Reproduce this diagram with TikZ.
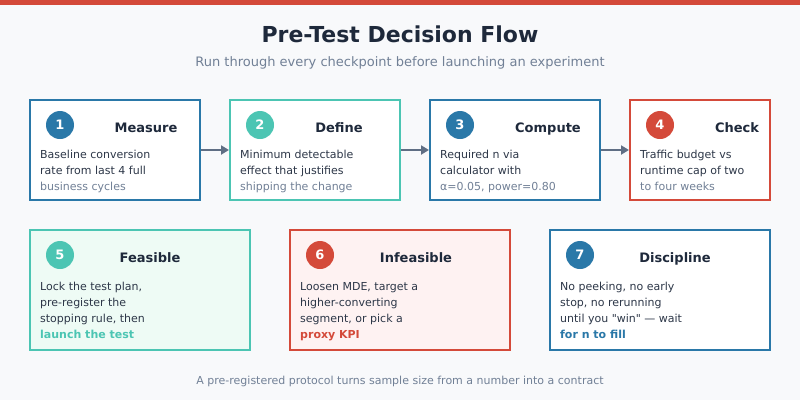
\documentclass[tikz,border=0pt]{standalone}
\usepackage{fontspec}
\setmainfont{DejaVu Sans}
\newfontfamily\rawq{DejaVu Sans}
\usetikzlibrary{arrows.meta}
\definecolor{bg}{HTML}{F8F9FB}
\definecolor{cblue}{HTML}{2A78A8}
\definecolor{cteal}{HTML}{4CC5B3}
\definecolor{cred}{HTML}{D44A3A}
\definecolor{cdark}{HTML}{1E293B}
\definecolor{cbody}{HTML}{2D3748}
\definecolor{cgray}{HTML}{718096}
\definecolor{carrow}{HTML}{5F6E84}
\definecolor{fgreen}{HTML}{EEFBF5}
\definecolor{fpink}{HTML}{FEF2F2}
\tikzset{
  card/.style={draw=#1, line width=2pt, fill=white, minimum height=100pt, minimum width=170pt, inner sep=0pt},
  numdot/.style={circle, fill=#1, minimum size=28pt, inner sep=0pt, text=white, font=\fontsize{13}{15}\selectfont\bfseries},
  cardtitle/.style={anchor=base, text=cdark, font=\fontsize{13}{15}\selectfont\bfseries, inner sep=0pt},
  bodyline/.style={anchor=base west, text=cbody, font=\fontsize{11}{13}\selectfont, inner sep=0pt},
  mutedline/.style={bodyline, text=cgray},
  flow/.style={draw=carrow, line width=2pt, -{Triangle[length=8pt,width=9pt]}},
}
\begin{document}
\begin{tikzpicture}[x=1pt,y=-1pt]
\useasboundingbox (0,0) rectangle (800,400);
\fill[bg] (0,0) rectangle (800,400);
\fill[cred] (0,0) rectangle (800,5);
\node[anchor=base, text=cdark, font=\fontsize{22}{26}\selectfont\bfseries] (title) at (400,42) {Pre-Test Decision Flow};
\node[anchor=base, text=cgray, font=\fontsize{13}{15}\selectfont] (sub) at (400,66) {Run through every checkpoint before launching an experiment};

% row 1
\node[card=cblue] (b1) at (115,150) {};
\node[card=cteal] (b2) at (315,150) {};
\node[card=cblue] (b3) at (515,150) {};
\node[card=cred, minimum width=140pt] (b4) at (700,150) {};

\node[numdot=cblue] (n1) at (60,125) {1};
\node[numdot=cteal] (n2) at (260,125) {2};
\node[numdot=cblue] (n3) at (460,125) {3};
\node[numdot=cred] (n4) at (660,125) {4};

\node[cardtitle] (t1) at (146,132) {Measure};
\node[cardtitle] (t2) at (339,132) {Define};
\node[cardtitle] (t3) at (548,132) {Compute};
\node[cardtitle] (t4) at (737,132) {Check};

\node[bodyline] (l11) at (40,158.3) {Baseline conversion};
\node[bodyline] (l12) at (40,174) {rate from last 4 full};
\node[mutedline] (l13) at (40,190) {business cycles};
\node[bodyline] (l21) at (240,158.3) {Minimum detectable};
\node[bodyline] (l22) at (240,174) {effect that justifies};
\node[mutedline] (l23) at (240,190) {shipping the change};
\node[bodyline] (l31) at (440,158.3) {Required n via};
\node[bodyline] (l32) at (440,174) {calculator with};
\node[mutedline] (l33) at (440,190) {α=0.05, power=0.80};
\node[bodyline] (l41) at (640,158.3) {Traffic budget vs};
\node[bodyline] (l42) at (640,174) {runtime cap of two};
\node[mutedline] (l43) at (640,190) {to four weeks};

\draw[flow] (b1.east) -- (b2.west);
\draw[flow] (b2.east) -- (b3.west);
\draw[flow] (b3.east) -- (b4.west);

% row 2
\node[card=cteal, fill=fgreen, minimum width=220pt, minimum height=120pt] (b5) at (140,290) {};
\node[card=cred, fill=fpink, minimum width=220pt, minimum height=120pt] (b6) at (400,290) {};
\node[card=cblue, fill=white, minimum width=220pt, minimum height=120pt] (b7) at (660,290) {};

\node[numdot=cteal] (n5) at (60,255) {5};
\node[numdot=cred] (n6) at (320,255) {6};
\node[numdot=cblue] (n7) at (580,255) {7};

\node[cardtitle] (t5) at (150,262) {Feasible};
\node[cardtitle] (t6) at (416,262) {Infeasible};
\node[cardtitle] (t7) at (675,262) {Discipline};

\node[bodyline] (l51) at (40,290.7) {Lock the test plan,};
\node[bodyline] (l52) at (40,306.3) {pre-register the};
\node[bodyline] (l53) at (40,322.3) {stopping rule, then};
\node[bodyline, text=cteal, font=\fontsize{11}{13}\selectfont\bfseries] (l54) at (40,338) {launch the test};
\node[bodyline] (l61) at (300,290.7) {Loosen MDE, target a};
\node[bodyline] (l62) at (300,306.3) {higher-converting};
\node[bodyline] (l63) at (300,322.3) {segment, or pick a};
\node[bodyline, text=cred, font=\fontsize{11}{13}\selectfont\bfseries] (l64) at (300,338) {proxy KPI};
\node[bodyline] (l71) at (560,290.7) {No peeking, no early};
\node[bodyline] (l72) at (560,306.3) {stop, no rerunning};
\node[bodyline] (l73) at (560,322.3) {\rawq until you "win" — wait};
\node[bodyline, text=cblue, font=\fontsize{11}{13}\selectfont\bfseries] (l74) at (560,338) {for n to fill};

\node[anchor=base, text=cgray, font=\fontsize{11}{13}\selectfont] (foot) at (400,384) {A pre-registered protocol turns sample size from a number into a contract};
\end{tikzpicture}
\end{document}
